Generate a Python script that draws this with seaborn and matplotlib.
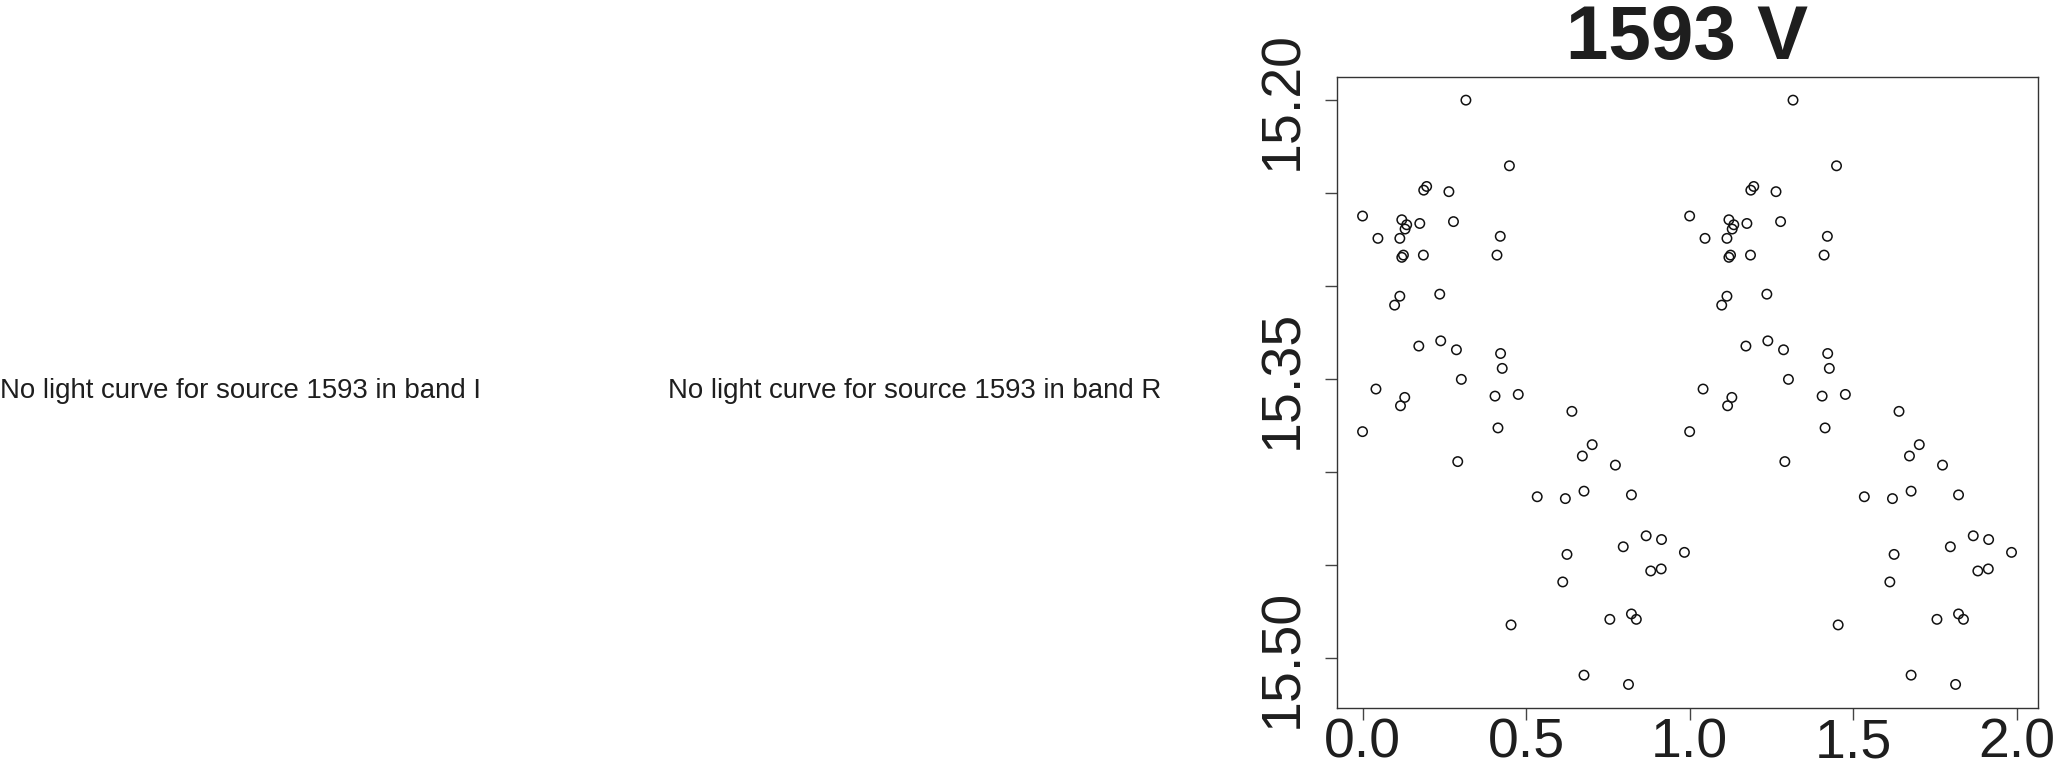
import numpy as np
import pandas as pd
import matplotlib
matplotlib.use("Agg")
import matplotlib.pyplot as plt
import seaborn as sns

# ---- data (phase-folded light curve, source 1593, band V) ----
phase = [0.316, 0.449, 0.187, 0.196, 0.264, 0.000, 0.120, 0.135, 0.130, 0.175,
         0.278, 0.047, 0.114, 0.421, 0.120, 0.125, 0.186, 0.411, 0.114, 0.098,
         0.236, 0.172, 0.239, 0.287, 0.422, 0.427, 0.302, 0.041, 0.129, 0.116,
         0.405, 0.476, 0.000, 0.414, 0.291, 0.454,
         0.640, 0.702, 0.672, 0.773, 0.534, 0.620, 0.677, 0.822, 0.867, 0.914,
         0.797, 0.625, 0.984, 0.881, 0.913, 0.612, 0.756, 0.822, 0.837, 0.677,
         0.813]
mag = [15.200, 15.2353, 15.2484, 15.2464, 15.2492, 15.2623, 15.2643, 15.2670, 15.2693, 15.2663,
       15.2653, 15.2743, 15.2743, 15.2732, 15.2845, 15.2833, 15.2833, 15.2833, 15.3054, 15.3102,
       15.3043, 15.3322, 15.3294, 15.3342, 15.3362, 15.3442, 15.3501, 15.3553, 15.3598, 15.3643,
       15.3591, 15.3582, 15.3782, 15.3762, 15.3943, 15.4821,
       15.3673, 15.3852, 15.3913, 15.3962, 15.4132, 15.4142, 15.4102, 15.4122, 15.4342, 15.4362,
       15.4401, 15.4442, 15.4431, 15.4531, 15.4520, 15.4590, 15.4791, 15.4762, 15.4791, 15.5091,
       15.5141]

source = "1593"
band = "V"
missing_bands = ["I", "R"]
x_ticks = [0.0, 0.5, 1.0, 1.5, 2.0]
x_ticklabels = ["0.0", "0.5", "1.0", "1.5", "2.0"]
y_ticks = [15.20, 15.25, 15.30, 15.35, 15.40, 15.45, 15.50]
y_ticklabels = ["15.20", "", "", "15.35", "", "", "15.50"]

# two cycles of phase
df = pd.DataFrame({
    "phase": np.concatenate([phase, np.array(phase) + 1.0]),
    "mag": np.concatenate([mag, mag]),
})

sns.set_theme(style="white")
plt.rcParams["font.family"] = ["Liberation Sans", "DejaVu Sans"]

W, H = 2057, 766
fig = plt.figure(figsize=(W / 100, H / 100), dpi=100)
txt_color = "#1e1e1e"

# messages for the missing bands
fig.text(240 / W, 1 - 391 / H, f"No light curve for source {source} in band {missing_bands[0]}",
         ha="center", va="center", fontsize=19.9, color=txt_color)
fig.text(915 / W, 1 - 391 / H, f"No light curve for source {source} in band {missing_bands[1]}",
         ha="center", va="center", fontsize=19.9, color=txt_color)

# light curve panel
left, right, top, bottom = 1336.7, 2037.7, 76.7, 707.7
ax = fig.add_axes([left / W, 1 - bottom / H, (right - left) / W, (bottom - top) / H])
sns.scatterplot(data=df, x="phase", y="mag", ax=ax, marker="o", s=46,
                linewidth=1.1, legend=False)
coll = ax.collections[0]
coll.set_facecolor("none")
coll.set_edgecolor("#111111")

ax.set_xlim(-0.079, 2.064)
ax.set_ylim(15.5266, 15.1874)
ax.set_xticks(x_ticks)
ax.set_xticklabels(x_ticklabels)
ax.set_yticks(y_ticks)
ax.set_yticklabels(y_ticklabels)
ax.set_xlabel("")
ax.set_ylabel("")

for s in ax.spines.values():
    s.set_visible(True)
    s.set_color("#333333")
    s.set_linewidth(1.0)

ax.tick_params(axis="both", which="major", direction="out", length=8.6, width=1.0,
               color="#444444", labelsize=40, labelcolor=txt_color,
               bottom=True, left=True, top=False, right=False)
ax.tick_params(axis="x", pad=-1.5)
ax.tick_params(axis="y", pad=11)
for lab in ax.get_yticklabels():
    lab.set_rotation(90)
    lab.set_va("center")
    lab.set_ha("right")

ax.set_title(f"{source} {band}", fontsize=55, fontweight="bold", color=txt_color, pad=12.5)

fig.savefig("out.png", dpi=100)
